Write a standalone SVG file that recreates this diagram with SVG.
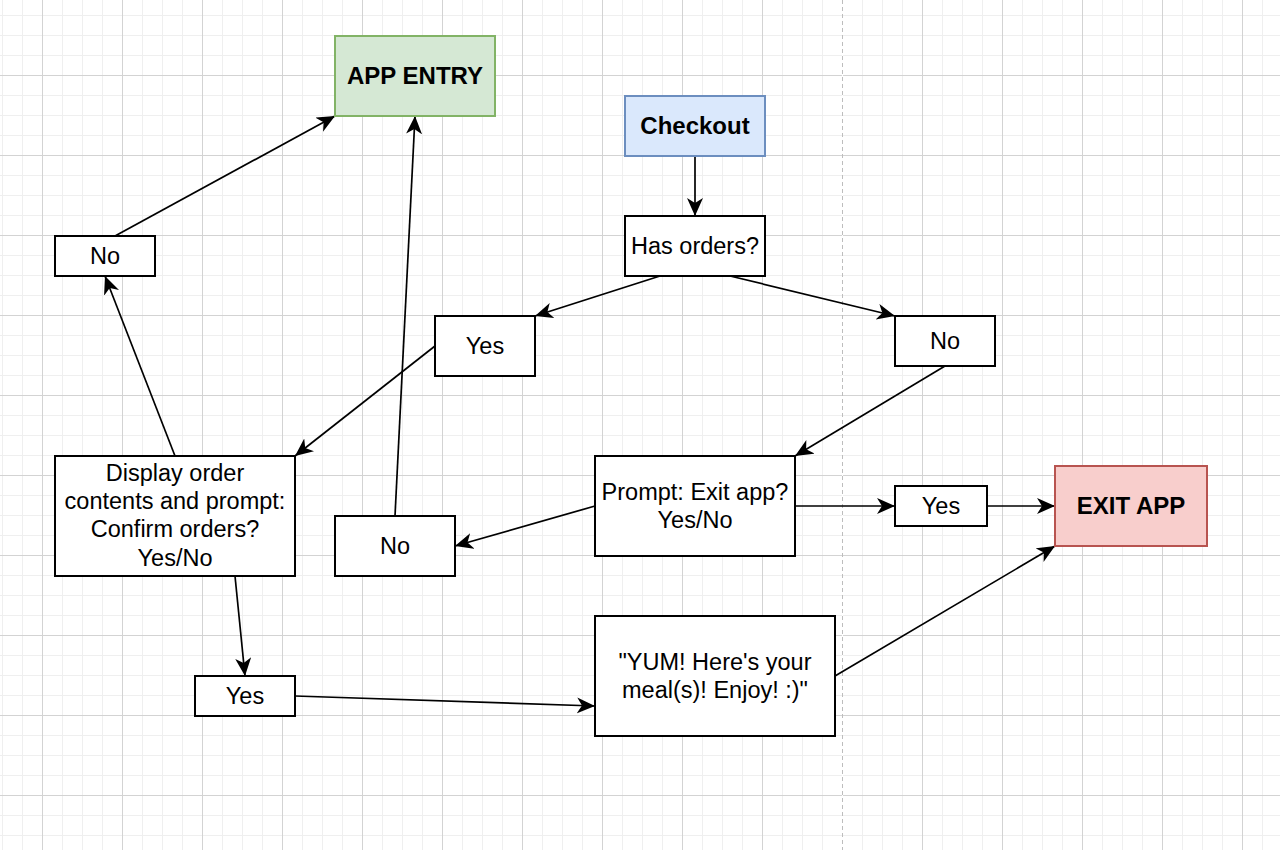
<svg xmlns="http://www.w3.org/2000/svg" width="1280" height="850" viewBox="0 0 1280 850">
<style>
.box{fill:#ffffff;stroke:#000000;stroke-width:2}
.entry{fill:#d5e8d4;stroke:#82b366;stroke-width:2}
.checkout{fill:#dae8fc;stroke:#6c8ebf;stroke-width:2}
.exit{fill:#f8cecc;stroke:#b85450;stroke-width:2}
text{font-family:"Liberation Sans",Arial,Helvetica,sans-serif;font-size:23.5px;fill:#000000;text-anchor:middle}
text.b{font-weight:bold;font-size:24px}
.edge{fill:none;stroke:#000000;stroke-width:1.7;marker-end:url(#arrow)}
</style>
<defs>
<pattern id="minor" width="20" height="20" patternUnits="userSpaceOnUse" x="2" y="15">
<rect x="0" y="0" width="20" height="1" fill="#efefef"/>
<rect x="0" y="0" width="1" height="20" fill="#efefef"/>
</pattern>
<pattern id="major" width="80" height="80" patternUnits="userSpaceOnUse" x="42" y="75">
<rect x="0" y="0" width="80" height="1" fill="#d3d3d3"/>
<rect x="0" y="0" width="1" height="80" fill="#d3d3d3"/>
</pattern>
<marker id="arrow" markerUnits="userSpaceOnUse" markerWidth="19" markerHeight="17" refX="18" refY="8" orient="auto" viewBox="0 0 19 17">
<path d="M0,0 L18,8 L0,16 L5,8 Z" fill="#000000"/>
</marker>
</defs>
<g id="background">
<rect x="0" y="0" width="1280" height="850" fill="#ffffff"/>
<rect x="0" y="0" width="1280" height="850" fill="url(#minor)"/>
<rect x="0" y="0" width="1280" height="850" fill="url(#major)"/>
<rect x="842" y="0" width="1" height="850" fill="#ffffff"/>
<line x1="842.5" y1="0" x2="842.5" y2="850" stroke="#bdbdbd" stroke-width="1" stroke-dasharray="4 3"/>
</g>
<g id="connectors">
<line class="edge" x1="695" y1="156" x2="695" y2="216"/>
<line class="edge" x1="660" y1="276" x2="535" y2="316"/>
<line class="edge" x1="730" y1="276" x2="895" y2="316"/>
<line class="edge" x1="435" y1="346" x2="295" y2="456"/>
<line class="edge" x1="945" y1="366" x2="795" y2="456"/>
<line class="edge" x1="175" y1="456" x2="105" y2="276"/>
<line class="edge" x1="115" y1="236" x2="335" y2="116"/>
<line class="edge" x1="395" y1="516" x2="415" y2="116"/>
<line class="edge" x1="595" y1="506" x2="455" y2="546"/>
<line class="edge" x1="795" y1="506" x2="895" y2="506"/>
<line class="edge" x1="987" y1="506" x2="1055" y2="506"/>
<line class="edge" x1="235" y1="576" x2="245" y2="676"/>
<line class="edge" x1="295" y1="696" x2="595" y2="706"/>
<line class="edge" x1="835" y1="676" x2="1055" y2="546"/>
</g>
<g id="app-entry">
<rect class="entry" x="335" y="36" width="160" height="80"/>
<text class="b" x="415" y="84">APP ENTRY</text>
</g>
<g id="checkout">
<rect class="checkout" x="625" y="96" width="140" height="60"/>
<text class="b" x="695" y="134">Checkout</text>
</g>
<g id="has-orders">
<rect class="box" x="625" y="216" width="140" height="60"/>
<text x="695" y="254">Has orders?</text>
</g>
<g id="yes-orders">
<rect class="box" x="435" y="316" width="100" height="60"/>
<text x="485" y="354">Yes</text>
</g>
<g id="no-orders">
<rect class="box" x="895" y="316" width="100" height="50"/>
<text x="945" y="349">No</text>
</g>
<g id="no-confirm">
<rect class="box" x="55" y="236" width="100" height="40"/>
<text x="105" y="264">No</text>
</g>
<g id="display-orders">
<rect class="box" x="55" y="456" width="240" height="120"/>
<text x="175" y="481">Display order</text>
<text x="175" y="509">contents and prompt:</text>
<text x="175" y="537">Confirm orders?</text>
<text x="175" y="566">Yes/No</text>
</g>
<g id="no-exit">
<rect class="box" x="335" y="516" width="120" height="60"/>
<text x="395" y="554">No</text>
</g>
<g id="prompt-exit">
<rect class="box" x="595" y="456" width="200" height="100"/>
<text x="695" y="500">Prompt: Exit app?</text>
<text x="695" y="528">Yes/No</text>
</g>
<g id="yes-exit">
<rect class="box" x="895" y="486" width="92" height="40"/>
<text x="941" y="514">Yes</text>
</g>
<g id="exit-app">
<rect class="exit" x="1055" y="466" width="152" height="80"/>
<text class="b" x="1131" y="514">EXIT APP</text>
</g>
<g id="yes-confirm">
<rect class="box" x="195" y="676" width="100" height="40"/>
<text x="245" y="704">Yes</text>
</g>
<g id="yum">
<rect class="box" x="595" y="616" width="240" height="120"/>
<text x="715" y="670">"YUM! Here's your</text>
<text x="715" y="698">meal(s)! Enjoy! :)"</text>
</g>
</svg>
